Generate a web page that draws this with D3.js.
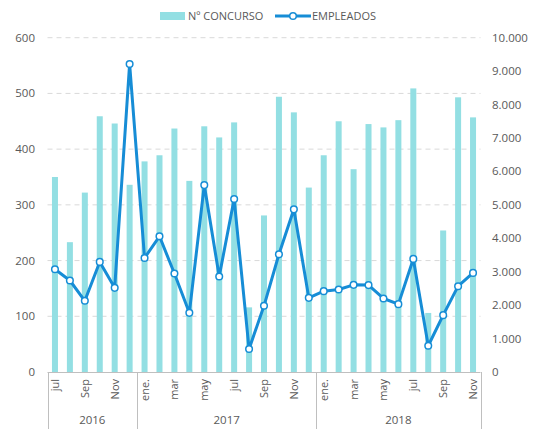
<!DOCTYPE html>
<html>
<head>
<meta charset="utf-8">
<script src="https://cdn.jsdelivr.net/npm/d3@7"></script>
<style>
  body { margin: 0; background: #fff; }
  text { font-family: "Open Sans", sans-serif; fill: #595959; }
</style>
</head>
<body>
<div id="chart"></div>
<script>
// months shown on the axis (only every other one gets a label)
var months = ["jul","ago","Sep","oct","Nov","dic",
  "ene.","feb","mar","abr","may","jun","jul","ago","Sep","oct","Nov","dic",
  "ene.","feb","mar","abr","may","jun","jul","ago","Sep","oct","Nov"];
var years = ["2016", "2017", "2018"];
var yearSpan = [6, 12, 11];
// Nº CONCURSO (bars, left axis)
var concurso = [350, 233, 322, 459, 446, 336,
  378, 389, 437, 343, 441, 421, 448, 116, 281, 494, 466, 331,
  389, 450, 364, 445, 439, 452, 509, 106, 254, 493, 457];
// EMPLEADOS (line, right axis)
var empleados = [3075, 2737, 2130, 3293, 2517, 9215,
  3412, 4060, 2946, 1770, 5591, 2857, 5174, 687, 1980, 3522, 4866, 2218,
  2418, 2468, 2607, 2600, 2199, 2030, 3383, 786, 1701, 2567, 2964];
var leftTicks = [0, 100, 200, 300, 400, 500, 600];
var rightTicks = [0, 1000, 2000, 3000, 4000, 5000, 6000, 7000, 8000, 9000, 10000];

var W = 538, H = 429;
var barColor = "#93dfe3", lineColor = "#168dd6";

var svg = d3.select("#chart").append("svg")
    .attr("width", W).attr("height", H);

var idx = d3.range(months.length);
var x = d3.scaleBand().domain(idx).range([47.5, 480.5]);
var yL = d3.scaleLinear().domain([0, 600]).range([372, 37.7]);
var yR = d3.scaleLinear().domain([0, 10000]).range([372, 37.7]);

// gridlines
svg.append("g").selectAll("line")
    .data(leftTicks.slice(1))
    .enter().append("line")
    .attr("x1", 47.5).attr("x2", 480.5)
    .attr("y1", function (d) { return yL(d); })
    .attr("y2", function (d) { return yL(d); })
    .style("stroke", "#d9d9d9")
    .style("stroke-width", 1)
    .style("stroke-dasharray", "5,4");

// left axis labels
var fmtR = function (d) { return d3.format(",")(d).replace(/,/g, "."); };
svg.append("g").selectAll("text")
    .data(leftTicks)
    .enter().append("text")
    .attr("x", 35).attr("y", function (d) { return yL(d) + 4; })
    .attr("text-anchor", "end")
    .attr("font-size", 11.5)
    .text(function (d) { return d; });

svg.append("g").selectAll("text")
    .data(rightTicks)
    .enter().append("text")
    .attr("x", 492).attr("y", function (d) { return yR(d) + 4; })
    .attr("text-anchor", "start")
    .attr("font-size", 11.5)
    .text(fmtR);

// bars
var bw = 6;
svg.append("g").selectAll("rect")
    .data(concurso)
    .enter().append("rect")
    .attr("x", function (d, i) { return x(i) + x.bandwidth() / 2 - bw / 2; })
    .attr("width", bw)
    .attr("y", function (d) { return yL(d); })
    .attr("height", function (d) { return yL(0) - yL(d); })
    .style("fill", barColor);

// axis line
svg.append("line")
    .attr("x1", 47.5).attr("x2", 480.5)
    .attr("y1", 372.5).attr("y2", 372.5)
    .style("stroke", "#bfbfbf");

// year separators
var cum = [0];
yearSpan.forEach(function (n, i) { cum.push(cum[i] + n); });
svg.append("g").selectAll("line")
    .data(cum)
    .enter().append("line")
    .attr("x1", function (d) { return Math.round(x.range()[0] + d * x.step()) + 0.5; })
    .attr("x2", function (d) { return Math.round(x.range()[0] + d * x.step()) + 0.5; })
    .attr("y1", 372).attr("y2", 429)
    .style("stroke", "#bfbfbf");

// month labels
svg.append("g").selectAll("text")
    .data(idx.filter(function (i) { return i % 2 === 0; }))
    .enter().append("text")
    .attr("transform", function (i) {
        return "translate(" + (x(i) + x.bandwidth() / 2 + 4) + ",379) rotate(-90)";
    })
    .attr("text-anchor", "end")
    .attr("font-size", 11)
    .text(function (i) { return months[i]; });

// year labels
svg.append("g").selectAll("text")
    .data(years)
    .enter().append("text")
    .attr("x", function (d, i) { return x.range()[0] + (cum[i] + cum[i + 1]) / 2 * x.step(); })
    .attr("y", 424)
    .attr("text-anchor", "middle")
    .attr("font-size", 11.5)
    .text(function (d) { return d; });

// line
var line = d3.line()
    .x(function (d, i) { return x(i) + x.bandwidth() / 2; })
    .y(function (d) { return yR(d); });
svg.append("path")
    .datum(empleados)
    .attr("d", line)
    .style("fill", "none")
    .style("stroke", lineColor)
    .style("stroke-width", 3)
    .style("stroke-linejoin", "round");

svg.append("g").selectAll("circle")
    .data(empleados)
    .enter().append("circle")
    .attr("cx", function (d, i) { return x(i) + x.bandwidth() / 2; })
    .attr("cy", function (d) { return yR(d); })
    .attr("r", 3.3)
    .style("fill", "#fff")
    .style("stroke", lineColor)
    .style("stroke-width", 1.5);

// legend
var lg = svg.append("g");
lg.append("rect")
    .attr("x", 160).attr("y", 12).attr("width", 25).attr("height", 8)
    .style("fill", barColor);
lg.append("text")
    .attr("x", 188).attr("y", 20)
    .attr("font-size", 11)
    .text("Nº CONCURSO");
lg.append("line")
    .attr("x1", 275).attr("x2", 311).attr("y1", 16).attr("y2", 16)
    .style("stroke", lineColor).style("stroke-width", 3);
lg.append("circle")
    .attr("cx", 293).attr("cy", 16).attr("r", 3.3)
    .style("fill", "#fff").style("stroke", lineColor).style("stroke-width", 1.5);
lg.append("text")
    .attr("x", 312).attr("y", 20)
    .attr("font-size", 11)
    .text("EMPLEADOS");
</script>
</body>
</html>
